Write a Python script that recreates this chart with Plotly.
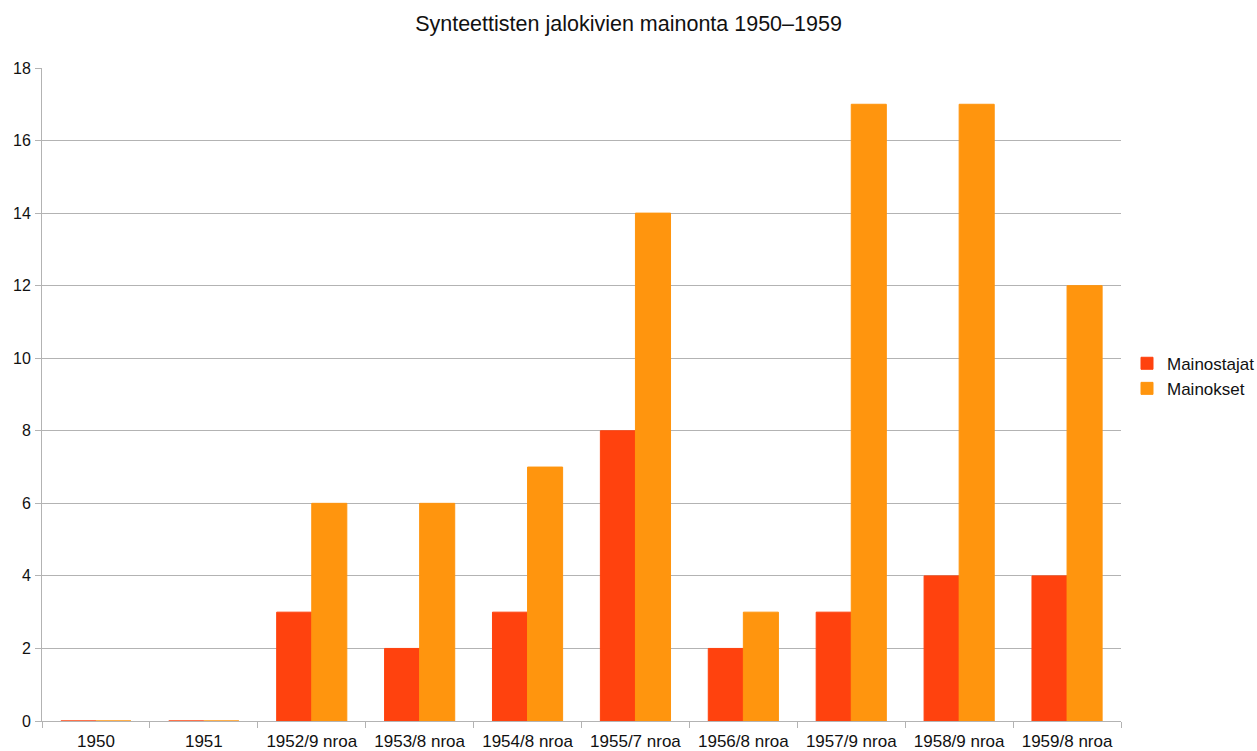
import plotly.graph_objects as go

categories = ["1950", "1951", "1952/9 nroa", "1953/8 nroa", "1954/8 nroa",
              "1955/7 nroa", "1956/8 nroa", "1957/9 nroa", "1958/9 nroa", "1959/8 nroa"]
mainostajat = [0, 0, 3, 2, 3, 8, 2, 3, 4, 4]
mainokset = [0, 0, 6, 6, 7, 14, 3, 17, 17, 12]

RED = "#ff420e"
ORANGE = "#ff950e"
GRID = "#b3b3b3"
TEXT = "#111111"
FONT = "Liberation Sans, Arial, sans-serif"

fig = go.Figure()
fig.add_trace(go.Bar(x=categories, y=mainostajat, name="Mainostajat",
                     marker=dict(color=RED, line=dict(color=RED, width=1))))
fig.add_trace(go.Bar(x=categories, y=mainokset, name="Mainokset",
                     marker=dict(color=ORANGE, line=dict(color=ORANGE, width=1))))

fig.update_layout(
    width=1257, height=751,
    margin=dict(l=42, r=136, t=68, b=30, autoexpand=False),
    paper_bgcolor="white", plot_bgcolor="white",
    font=dict(family=FONT, size=17, color=TEXT),
    title=dict(text="Synteettisten jalokivien mainonta 1950–1959",
               x=0.5, xanchor="center", y=1 - 23 / 751, yanchor="middle",
               font=dict(size=21.5, color=TEXT)),
    barmode="group", bargap=0.35, bargroupgap=0,
    legend=dict(x=(1127 - 42) / 1079, xanchor="left", y=0.528, yanchor="middle",
                font=dict(size=17, color=TEXT), itemwidth=30,
                bgcolor="rgba(0,0,0,0)"),
    showlegend=True,
)
fig.update_xaxes(type="category", tickson="boundaries", ticks="outside", ticklen=6,
                 tickcolor=GRID, showline=True, linecolor=GRID, linewidth=1,
                 showgrid=False, tickfont=dict(size=17), automargin=False,
                 ticklabelstandoff=5)
fig.update_yaxes(range=[0, 18], dtick=2, ticks="outside", ticklen=6, tickcolor=GRID,
                 showline=True, linecolor=GRID, linewidth=1,
                 showgrid=True, gridcolor=GRID, gridwidth=1, zeroline=False,
                 tickfont=dict(size=16), automargin=False, ticklabelstandoff=1)

fig.write_html("out.html")
